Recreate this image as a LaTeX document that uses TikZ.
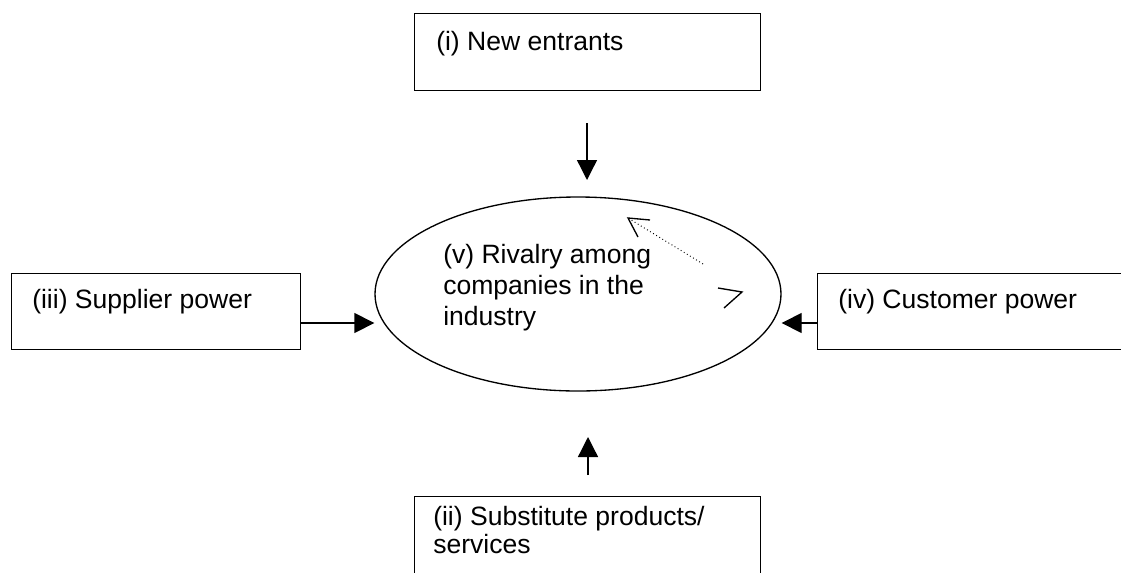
\documentclass[tikz,border=0pt]{standalone}
\usepackage{fontspec}
\setmainfont{Liberation Sans}
\usetikzlibrary{shapes.geometric,arrows.meta}
\tikzset{
  box/.style={draw, line width=1pt, rectangle, inner sep=0pt, anchor=north west},
  lbl/.style={inner sep=0pt, anchor=base west, align=left, font=\fontsize{19.9}{23.25}\selectfont},
  arr/.style={line width=1pt, -{Triangle[length=15pt,width=15pt]}},
  thin/.style={line width=1pt}
}
\begin{document}
\begin{tikzpicture}[x=0.75pt,y=-0.75pt]
\useasboundingbox (0,0) rectangle (1121,572);
% boxes
\node[box, minimum width=259.5pt, minimum height=57.75pt] (new) at (414,13) {};
\node[box, minimum width=216.75pt, minimum height=57pt] (sup) at (11,273) {};
\node[box, minimum width=234.75pt, minimum height=57pt] (cus) at (817,273) {};
\node[box, minimum width=259.5pt, minimum height=63pt] (sub) at (414,496) {};
\node[draw, line width=1pt, ellipse, inner sep=0pt, minimum width=304.5pt, minimum height=145.5pt] (riv) at (578,294) {};
% texts (multi-line nodes: base = last line)
\node[lbl] (tnew) at (436,50) {(i) New entrants};
\node[lbl] (tsup) at (32,308) {(iii) Supplier power};
\node[lbl] (tcus) at (838,308) {(iv) Customer power};
\node[lbl] (triv) at (443,325) {(v) Rivalry among\\companies in the\\industry};
\node[lbl, font=\fontsize{19.9}{21}\selectfont] (tsub) at (433,553) {(ii) Substitute products/\\services};
% free ends
\coordinate (ta) at (587,123);
\coordinate (tb) at (587,180);
\coordinate (ba) at (588,475);
\coordinate (bb) at (588,437);
% connectors
\draw[arr] (ta) -- (tb);
\draw[arr] (ba) -- (bb);
\draw[arr] (sup.east |- 0,323) -- (riv.west |- 0,323);
\draw[arr] (cus.west |- 0,323) -- (riv.east |- 0,323);
% dotted arrow inside ellipse
\coordinate (da) at (703,264);
\coordinate (db) at (628,218);
\coordinate (dc) at (650,220);
\coordinate (dd) at (638,237);
\draw[dotted, line width=0.7pt] (da) -- (db);
\draw[thin] (dc) -- (db) -- (dd);
% open angle mark
\coordinate (ga) at (718,288);
\coordinate (gb) at (742,292);
\coordinate (gc) at (724,308);
\draw[thin] (ga) -- (gb) -- (gc);
\end{tikzpicture}
\end{document}
